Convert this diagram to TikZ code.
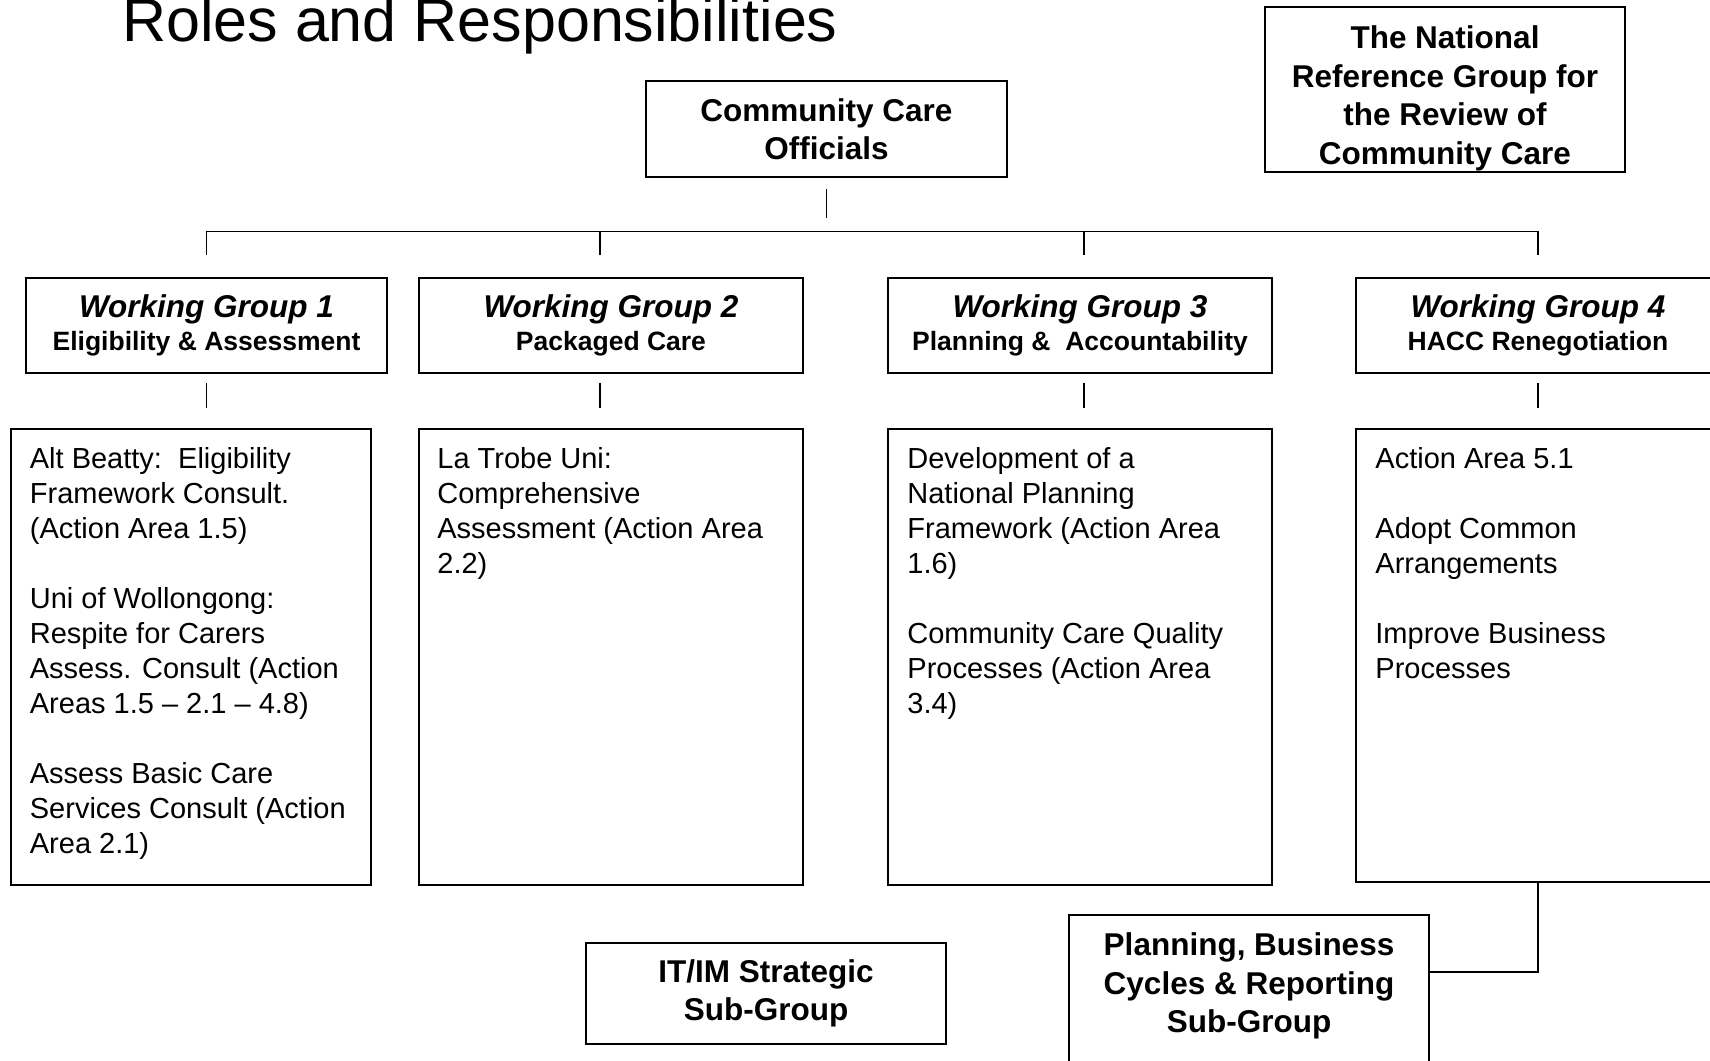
\documentclass[tikz,border=0pt]{standalone}
\usepackage{fontspec}
\setmainfont{Liberation Sans}
\begin{document}
\begin{tikzpicture}[x=1pt, y=-1pt,
        box/.style={draw, line width=1.6pt, inner sep=0pt, align=center},
        headtext/.style={font=\fontsize{31.5}{38.5}\selectfont\bfseries, align=center},
        grouptext/.style={font=\fontsize{31.5}{33}\selectfont\bfseries, align=center},
        itemtext/.style={font=\fontsize{29}{35}\selectfont, align=left, inner sep=0pt, anchor=north west},
        link/.style={line width=1.3pt}]
        \clip (0, 0) rectangle (1710, 1060);

        % Title
        \node (title) [anchor=base west, inner sep=0pt, font=\fontsize{61}{70}\selectfont] at (122, 41) {Roles and Responsibilities};

        % Top boxes
        \node (cco) [box, headtext, minimum width=361, minimum height=96] at (826.5, 129) {Community Care\\Officials};
        \node (nrg) [box, minimum width=360, minimum height=165] at (1445, 89.5) {};
        \node (nrgtext) [headtext] at ([yshift=-9pt]nrg.center) {The National\\Reference Group for\\the Review of\\Community Care};

        % Working groups
        \node (wg1) [box, grouptext, minimum width=361, minimum height=95] at (206.5, 325.5) {\textit{Working Group 1}\\{\fontsize{26.5}{33}\selectfont Eligibility \& Assessment}};
        \node (wg2) [box, grouptext, minimum width=384, minimum height=95] at (611, 325.5) {\textit{Working Group 2}\\{\fontsize{26.5}{33}\selectfont Packaged Care}};
        \node (wg3) [box, grouptext, minimum width=384, minimum height=95] at (1080, 325.5) {\textit{Working Group 3}\\{\fontsize{26.5}{33}\selectfont Planning \&\ \ Accountability}};
        \node (wg4) [box, grouptext, minimum width=364, minimum height=95] at (1538, 325.5) {\textit{Working Group 4}\\{\fontsize{26.5}{33}\selectfont HACC Renegotiation}};

        % Action boxes
        \node (c1) [box, minimum width=360, minimum height=456] at (191, 657) {};
        \node (c2) [box, minimum width=384, minimum height=456] at (611, 657) {};
        \node (c3) [box, minimum width=384, minimum height=456] at (1080, 657) {};
        \node (c4) [box, minimum width=364, minimum height=453] at (1538, 655.5) {};

        \node (c1text) [itemtext] at ([xshift=19.5pt, yshift=-19pt]c1.north west) {Alt Beatty:\ \ Eligibility\\Framework Consult.\\(Action Area 1.5)\\[35pt]Uni of Wollongong:\\Respite for Carers\\Assess. Consult (Action\\Areas 1.5 – 2.1 – 4.8)\\[35pt]Assess Basic Care\\Services Consult (Action\\Area 2.1)};
        \node (c2text) [itemtext] at ([xshift=19pt, yshift=-19pt]c2.north west) {La Trobe Uni:\\Comprehensive\\Assessment (Action Area\\2.2)};
        \node (c3text) [itemtext] at ([xshift=20pt, yshift=-19pt]c3.north west) {Development of a\\National Planning\\Framework (Action Area\\1.6)\\[35pt]Community Care Quality\\Processes (Action Area\\3.4)};
        \node (c4text) [itemtext] at ([xshift=20pt, yshift=-19pt]c4.north west) {Action Area 5.1\\[35pt]Adopt Common\\Arrangements\\[35pt]Improve Business\\Processes};

        % Sub-groups
        \node (itim) [box, headtext, minimum width=360, minimum height=101] at (766, 993.5) {IT/IM Strategic\\Sub-Group};
        \node (pbc) [box, minimum width=360, minimum height=180, anchor=north] at (1249, 914) {};
        \node (pbctext) [headtext] at ([yshift=-72pt]pbc.north) {Planning, Business\\Cycles \& Reporting\\Sub-Group};

        % Edges
        \draw[link] ([yshift=-11pt]cco.south) -- ++(0, 29);
        \draw[link] ([yshift=22pt]wg1.north) -- ++(0, -24) -| ([yshift=22pt]wg4.north);
        \draw[link] ([xshift=-11pt, yshift=22pt]wg2.north) -- ++(0, -24);
        \draw[link] ([xshift=4pt, yshift=22pt]wg3.north) -- ++(0, -24);
        \draw[link] ([yshift=-9pt]wg1.south) -- ++(0, 25);
        \draw[link] ([xshift=-11pt, yshift=-9pt]wg2.south) -- ++(0, 25);
        \draw[link] ([xshift=4pt, yshift=-9pt]wg3.south) -- ++(0, 25);
        \draw[link] ([yshift=-9pt]wg4.south) -- ++(0, 25);
        \draw[link] (c4.south) |- ([yshift=-58pt]pbc.north east);

    \end{tikzpicture}
\end{document}
